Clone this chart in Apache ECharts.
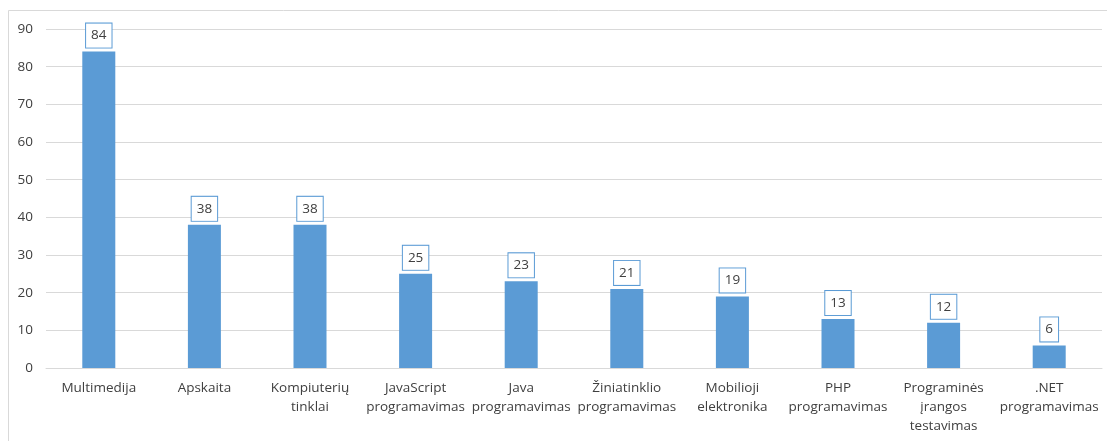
<!DOCTYPE html>
<html>
<head>
<meta charset="utf-8">
<script src="https://cdn.jsdelivr.net/npm/echarts@6/dist/echarts.min.js"></script>
<style>
html,body{margin:0;padding:0;background:#fff;}
#c{width:1107px;height:441px;}
</style>
</head>
<body>
<div id="c"></div>
<script>
const categories = ['Multimedija', 'Apskaita', 'Kompiuterių\ntinklai', 'JavaScript\nprogramavimas', 'Java\nprogramavimas', 'Žiniatinklio\nprogramavimas', 'Mobilioji\nelektronika', 'PHP\nprogramavimas', 'Programinės\nįrangos\ntestavimas', '.NET\nprogramavimas'];
const values = [84, 38, 38, 25, 23, 21, 19, 13, 12, 6];
const yTicks = {min: 0, max: 90, interval: 10};

const chart = echarts.init(document.getElementById('c'), null, {renderer: 'canvas'});
const font = '"Open Sans", "Noto Sans", sans-serif';
chart.setOption({
  animation: false,
  backgroundColor: '#ffffff',
  graphic: [{
    type: 'rect',
    shape: {x: 8.5, y: 10.5, width: 1200, height: 500},
    style: {fill: 'none', stroke: '#d9d9d9', lineWidth: 1},
    silent: true
  }],
  grid: {left: 46, right: 5, top: 29, bottom: 73, containLabel: false},
  xAxis: {
    type: 'category',
    data: categories,
    axisLine: {show: true, lineStyle: {color: '#d9d9d9', width: 1}},
    axisTick: {show: false},
    axisLabel: {
      interval: 0,
      color: '#404040',
      fontFamily: font,
      fontSize: 13.5,
      lineHeight: 19,
      margin: 11
    }
  },
  yAxis: {
    type: 'value',
    min: yTicks.min,
    max: yTicks.max,
    interval: yTicks.interval,
    axisLine: {show: false},
    axisTick: {show: false},
    splitLine: {lineStyle: {color: '#d9d9d9', width: 1}},
    axisLabel: {color: '#404040', fontFamily: font, fontSize: 13.5, margin: 13}
  },
  series: [{
    type: 'bar',
    data: values,
    barWidth: 33,
    itemStyle: {color: '#5B9BD5'},
    label: {
      show: true,
      position: 'top',
      distance: 4,
      color: '#404040',
      fontFamily: font,
      fontSize: 13.5,
      backgroundColor: '#ffffff',
      borderColor: '#5B9BD5',
      borderWidth: 1,
      padding: [5, 5, 5, 5]
    }
  }]
});
</script>
</body>
</html>
